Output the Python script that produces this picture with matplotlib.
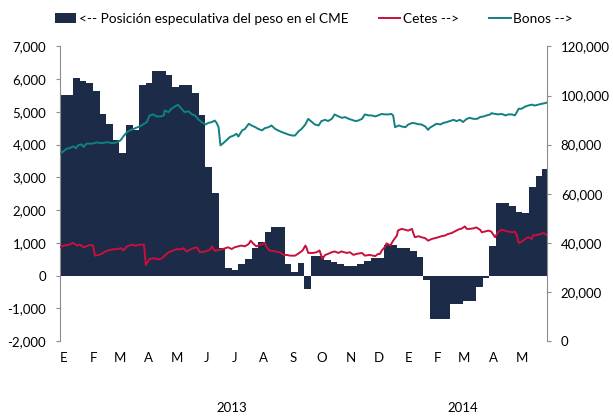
import pandas as pd
import matplotlib
matplotlib.use('Agg')
from matplotlib import pyplot as plt
from matplotlib.ticker import FuncFormatter
import matplotlib.transforms as mtransforms

plt.rcParams['font.family'] = ['Lato', 'DejaVu Sans']

# Posición especulativa del peso en el CME (semanal, eje izquierdo)
inicio = pd.Timestamp('2013-01-01')
posicion = [5518, 5518, 6027, 5955, 5875, 5650, 4940, 4634, 4146, 3750,
            4600, 4450, 5823, 5894, 6250, 6250, 6128, 5772, 5823, 5823,
            5589, 4900, 3313, 2520, 850, 240, 160, 366, 509, 845,
            1015, 1320, 1473, 1473, 366, 100, 390, -410, 610, 610,
            490, 410, 357, 305, 285, 357, 440, 540, 540, 940,
            940, 850, 850, 740, 580, -120, -1330, -1330, -1330, -870,
            -870, -790, -790, -340, -70, 910, 2220, 2220, 2120, 1930,
            1910, 2710, 3030, 3260]

# Cetes (eje derecho): días desde el 1 de enero de 2013 y valor
dias_cetes = [0, 4, 9, 14, 18, 21, 25, 28, 32, 35, 37, 41, 44, 48, 51, 55, 60, 65, 67, 71,
              76, 80, 85, 89, 91, 95, 101, 104, 108, 111, 115, 120, 124, 127, 131, 134, 138, 141, 145, 148,
              154, 159, 161, 164, 168, 171, 175, 178, 182, 185, 189, 192, 196, 200, 202, 205, 208, 212, 215, 217,
              219, 222, 228, 233, 237, 240, 244, 249, 252, 257, 260, 261, 263, 268, 272, 275, 278, 281, 284, 288,
              291, 295, 298, 304, 307, 311, 314, 320, 323, 328, 334, 337, 339, 341, 344, 346, 350, 353, 357, 358,
              362, 365, 369, 373, 374, 376, 380, 383, 387, 390, 394, 397, 401, 404, 408, 411, 415, 418, 422, 426,
              429, 431, 434, 438, 441, 445, 447, 450, 454, 457, 461, 464, 468, 471, 475, 479, 482, 484, 486, 489,
              493, 496, 500, 501, 505, 509, 512, 516]
cetes = [38200, 38900, 39200, 40000, 38900, 39300, 38200, 38600, 39200, 38900, 34800, 35100, 35500, 36500, 36900, 37300, 37500, 37800, 36900, 38600,
         39200, 38900, 39300, 39200, 31000, 33500, 33700, 33200, 33700, 34800, 36200, 36900, 37500, 37300, 37800, 36500, 37300, 37800, 38200, 36200,
         36500, 37300, 38600, 36800, 37100, 37300, 37800, 38200, 37500, 38200, 38600, 38900, 38600, 39600, 40900, 39600, 38600, 39200, 39600, 40000,
         38200, 36900, 36500, 36200, 35100, 35100, 34800, 34800, 35500, 36900, 38900, 38200, 35900, 35900, 36200, 36900, 33500, 35100, 35500, 36200,
         36500, 35900, 36500, 35900, 36200, 35100, 35500, 35900, 34800, 35100, 34600, 35500, 35500, 36900, 38200, 39800, 38900, 40900, 43000, 45000,
         45700, 45400, 45000, 45700, 44300, 42300, 42700, 42300, 41900, 40900, 41600, 41900, 42300, 42700, 43000, 43600, 44000, 44600, 45400, 45900,
         46700, 45700, 45700, 45900, 46300, 45400, 44300, 44600, 45000, 44600, 42300, 44300, 45400, 45000, 44600, 44300, 44600, 43200, 40000, 40500,
         41600, 42300, 41600, 43000, 43200, 43600, 44000, 43200]

# Bonos (eje derecho)
dias_bonos = [0, 4, 7, 11, 14, 17, 19, 23, 25, 28, 34, 39, 44, 50, 55, 60, 64, 67, 71, 74,
              78, 81, 85, 88, 92, 95, 99, 102, 107, 110, 111, 115, 118, 122, 125, 129, 132, 136, 140, 143,
              147, 150, 154, 157, 161, 164, 166, 168, 170, 173, 177, 180, 184, 187, 189, 193, 196, 200, 203, 207,
              210, 214, 217, 221, 224, 228, 231, 235, 238, 242, 246, 249, 253, 256, 260, 263, 267, 270, 274, 277,
              281, 284, 288, 291, 295, 299, 302, 306, 309, 313, 316, 320, 323, 327, 330, 334, 337, 341, 344, 348,
              351, 353, 355, 359, 362, 366, 369, 373, 376, 380, 383, 387, 390, 392, 396, 399, 403, 406, 410, 413,
              417, 420, 424, 427, 431, 434, 438, 442, 445, 449, 452, 456, 457, 461, 464, 468, 472, 475, 479, 482,
              484, 486, 489, 493, 496, 500, 503, 507, 510, 514, 517]
bonos = [76300, 77400, 78300, 78700, 79300, 78500, 79700, 80100, 79000, 80400, 80400, 80900, 80600, 81000, 80600, 80900, 81700, 83300, 85100, 85800,
         86400, 86900, 87500, 88200, 89200, 91900, 92300, 91500, 91500, 91900, 93900, 93200, 94600, 95600, 96200, 94500, 93200, 93600, 92300, 91900,
         90100, 89200, 88200, 88800, 89200, 89800, 88800, 87100, 79700, 80600, 82000, 83100, 83700, 84400, 83300, 85800, 86400, 88500, 87800, 87100,
         86400, 85800, 86700, 87100, 87800, 86400, 85800, 85100, 84700, 84100, 83700, 83700, 85500, 86400, 88200, 90500, 89200, 88200, 87800, 89600,
         90100, 89600, 90500, 92300, 91500, 90900, 91200, 90500, 90100, 89600, 89800, 90500, 92300, 91900, 91900, 91500, 91900, 92500, 92300, 92300,
         92500, 91900, 87100, 87800, 87400, 87100, 88200, 88800, 88700, 88300, 88200, 87400, 86000, 86900, 87800, 88500, 88200, 88800, 89200, 89600,
         90100, 89600, 90100, 89200, 90500, 90900, 90500, 90500, 91200, 91500, 91900, 92300, 92800, 92500, 92300, 92500, 91900, 92300, 92300, 91900,
         93200, 94600, 94600, 95500, 95900, 96300, 95900, 96300, 96600, 96900, 97300]

meses = ['E', 'F', 'M', 'A', 'M', 'J', 'J', 'A', 'S', 'O', 'N', 'D', 'E', 'F', 'M', 'A', 'M']

azul = '#1b2b48'
rojo = '#c8103a'
verde = '#118080'
gris = '#8c8c8c'

semanas = pd.date_range(inicio, periods=len(posicion), freq='7D')
fechas_cetes = inicio + pd.to_timedelta(dias_cetes, unit='D')
fechas_bonos = inicio + pd.to_timedelta(dias_bonos, unit='D')

fig = plt.figure(figsize=(6.13, 4.16), dpi=100)
ax = fig.add_axes([0.0979, 0.180, 0.7944, 0.7085])
ax2 = ax.twinx()

# sin bordes ni antialias para que las barras queden pegadas (sin rayas blancas)
barras = ax.bar(semanas, posicion, width=7, align='edge', color=azul,
                linewidth=0, antialiased=False,
                label='<-- Posición especulativa del peso en el CME')
l1, = ax2.plot(fechas_cetes, cetes, color=rojo, lw=1.4, label='Cetes -->')
l2, = ax2.plot(fechas_bonos, bonos, color=verde, lw=1.4, label='Bonos -->')

ax.set_xlim(inicio, pd.Timestamp('2014-06-01'))
ax.set_ylim(-2000, 7000)
ax.set_yticks(range(-2000, 7001, 1000))
ax2.set_ylim(0, 120000)
ax2.set_yticks(range(0, 120001, 20000))
fmt = FuncFormatter(lambda v, p: f'{int(v):,}')
ax.yaxis.set_major_formatter(fmt)
ax2.yaxis.set_major_formatter(fmt)

inicios_mes = pd.date_range(inicio, periods=len(meses), freq='MS')
ax.set_xticks(inicios_mes + pd.Timedelta(days=4))
ax.set_xticklabels(meses)
ax.tick_params(axis='x', length=0, pad=8, labelsize=9.5, colors='black')

for a in (ax, ax2):
    for s in ('top', 'bottom'):
        a.spines[s].set_visible(False)
ax.spines['right'].set_visible(False)
ax2.spines['left'].set_visible(False)
ax.spines['left'].set_color(gris)
ax2.spines['right'].set_color(gris)
ax.tick_params(axis='y', length=3, color=gris, pad=7, labelsize=9.5)
ax2.tick_params(axis='y', length=3, color=gris, pad=7, labelsize=9.5)

# años bajo las letras de los meses
trans = mtransforms.blended_transform_factory(ax.transData, ax.transAxes)
ax.text(pd.Timestamp('2013-07-02'), -0.228, '2013', transform=trans,
        ha='center', va='center', fontsize=9.5)
ax.text(pd.Timestamp('2014-03-04'), -0.228, '2014', transform=trans,
        ha='center', va='center', fontsize=9.5)

fig.legend(handles=[barras, l1, l2], loc='center', bbox_to_anchor=(0.512, 0.955),
           ncol=3, frameon=False, fontsize=9.8, handlelength=1.6,
           handletextpad=0.2, columnspacing=2.2)

fig.savefig('out.png', dpi=100)
